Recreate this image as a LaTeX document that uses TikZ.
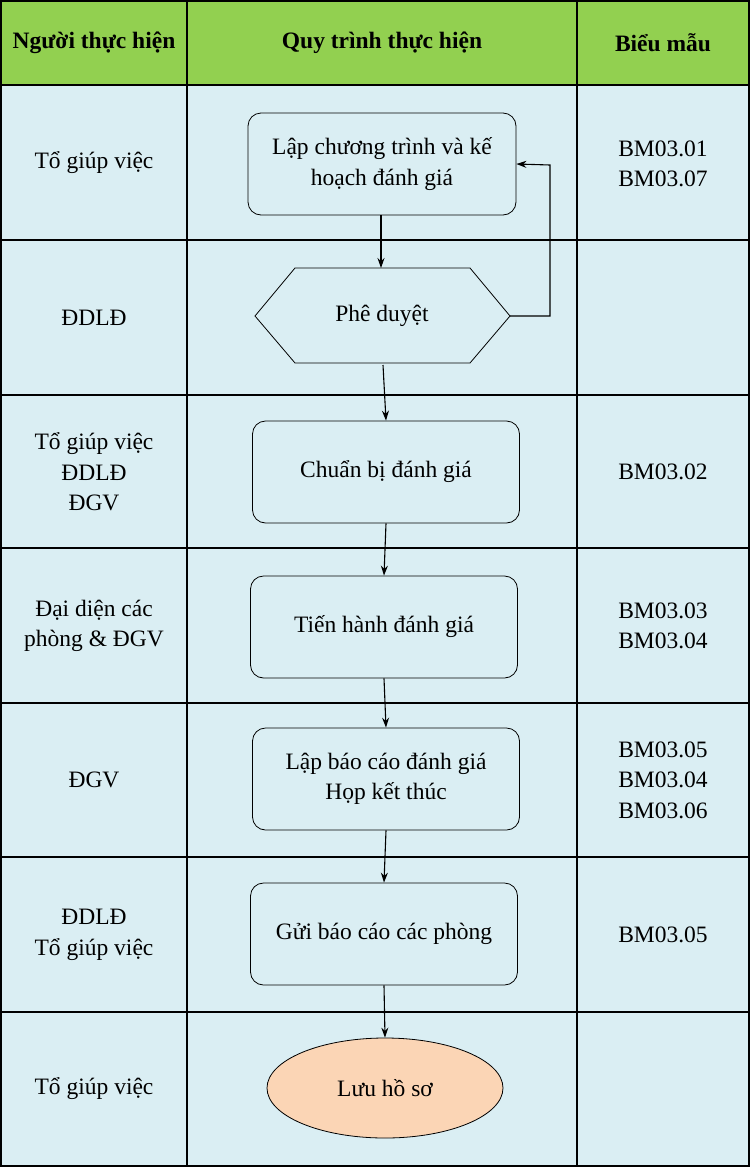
\documentclass[tikz,border=0pt]{standalone}
\usepackage{fontspec}
\setmainfont{Liberation Serif}
\usetikzlibrary{shapes.geometric,arrows.meta}
\definecolor{hdr}{HTML}{92D050}
\definecolor{bg}{HTML}{DAEEF3}
\definecolor{peach}{HTML}{FBD5B5}
\begin{document}
\begin{tikzpicture}[x=1pt,y=-1pt,
  cell/.style={font=\fontsize{23.5}{30.5}\selectfont,align=center},
  box/.style={draw,line width=0.8pt,rounded corners=13pt,fill=bg,font=\fontsize{23.5}{30.5}\selectfont,align=center,inner sep=0},
  arr/.style={-{Stealth[length=10pt,width=7pt]},line width=1.1pt}]
\useasboundingbox (0,0) rectangle (750,1167);
\fill[hdr] (1,1) rectangle (749,85);
\fill[bg] (1,85) rectangle (749,1166);
\draw[line width=1.2pt] (1,1) rectangle (749,1166);
\foreach \y in {85,240,395,548,703,857,1012} \draw[line width=1.2pt] (1,\y) -- (749,\y);
\draw[line width=1.2pt] (187,1) -- (187,1166) (577,1) -- (577,1166);
\node[cell,font=\fontsize{23.5}{30.5}\selectfont\bfseries] (h1) at (94,43) {Người thực hiện};
\node[cell,font=\fontsize{23.5}{30.5}\selectfont\bfseries] (h2) at (382,43) {Quy trình thực hiện};
\node[cell,font=\fontsize{23.5}{30.5}\selectfont\bfseries] (h3) at (663,43) {Biểu mẫu};
\node[cell] (p1) at (94,163) {Tổ giúp việc};
\node[cell] (p2) at (94,318) {ĐDLĐ};
\node[cell] (p3) at (94,472) {Tổ giúp việc\\ĐDLĐ\\ĐGV};
\node[cell] (p4) at (94,626) {Đại diện các\\phòng \& ĐGV};
\node[cell] (p5) at (94,780) {ĐGV};
\node[cell] (p6) at (94,935) {ĐDLĐ\\Tổ giúp việc};
\node[cell] (p7) at (94,1089) {Tổ giúp việc};
\node[cell] (b1) at (663,164) {BM03.01\\BM03.07};
\node[cell] (b3) at (663,472) {BM03.02};
\node[cell] (b4) at (663,626) {BM03.03\\BM03.04};
\node[cell] (b5) at (663,780) {BM03.05\\BM03.04\\BM03.06};
\node[cell] (b6) at (663,935) {BM03.05};
\node[box,minimum width=268pt,minimum height=102pt] (n1) at (382,164) {Lập chương trình và kế\\hoạch đánh giá};
\draw[fill=bg,line width=0.8pt] (255,316) -- (295,268) -- (470,268) -- (510,316) -- (470,363) -- (295,363) -- cycle;
\node[cell] (n2) at (382,316) {Phê duyệt};
\coordinate (n2r) at (510,316);
\node[box,minimum width=267pt,minimum height=102pt] (n3) at (386,472) {Chuẩn bị đánh giá};
\node[box,minimum width=267pt,minimum height=102pt] (n4) at (384,627) {Tiến hành đánh giá};
\node[box,minimum width=267pt,minimum height=102pt] (n5) at (386,779) {Lập báo cáo đánh giá\\Họp kết thúc};
\node[box,minimum width=267pt,minimum height=102pt] (n6) at (384,934) {Gửi báo cáo các phòng};
\node[draw,line width=0.8pt,ellipse,fill=peach,minimum width=236pt,minimum height=100pt,font=\fontsize{23.5}{30.5}\selectfont] (n7) at (385,1088) {Lưu hồ sơ};
\coordinate (t2) at (381,268);
\coordinate (s2) at (383,365);
\draw[arr] (381,215) -- (t2);
\draw[arr] (s2) -- (n3.north);
\draw[arr] (n3.south) -- (n4.north);
\draw[arr] (n4.south) -- (n5.north);
\draw[arr] (n5.south) -- (n6.north);
\draw[arr] (n6.south) -- (n7.north);
\draw[arr] (n2r) -- (550,316) -- (550,165) -- (n1.east);
\end{tikzpicture}
\end{document}
